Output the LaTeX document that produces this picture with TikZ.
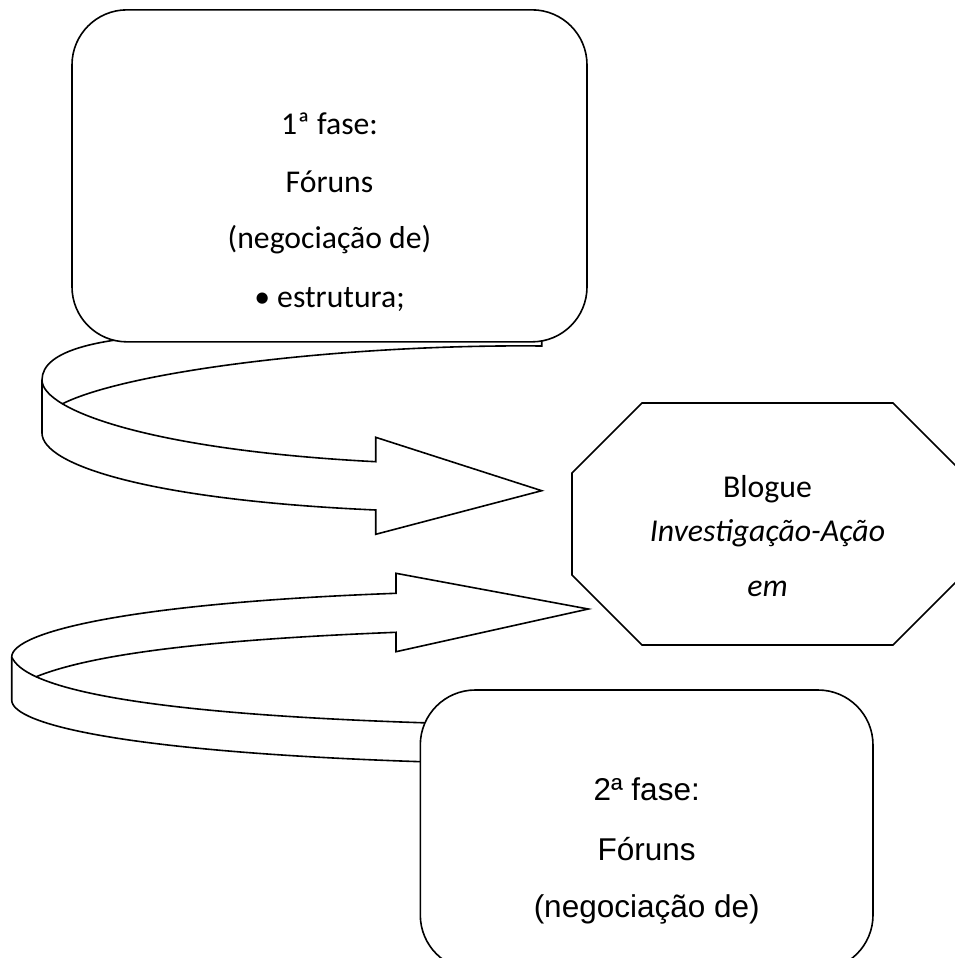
\documentclass[tikz,border=0pt]{standalone}
\usepackage{fontspec}
\newfontfamily\calibrif{Carlito}
\newfontfamily\arialf{Liberation Sans}
\begin{document}
\begin{tikzpicture}[x=1pt,y=-1pt,
  shapeline/.style={draw=black, line width=1.6pt, line join=miter},
  fillshape/.style={shapeline, fill=white},
  roundbox/.style={draw=black, fill=white, line width=1.6pt, rounded corners=55pt, inner sep=0pt},
  caltext/.style={anchor=base, inner sep=0pt, font=\calibrif\fontsize{31.7}{38}\selectfont},
  octtext/.style={anchor=base, inner sep=0pt, font=\calibrif\fontsize{31.8}{38}\selectfont},
  ariatext/.style={anchor=base, inner sep=0pt, font=\arialf\fontsize{31.5}{38}\selectfont}]
\useasboundingbox (0,0) rectangle (955,958);

% ---------- top curved arrow ----------
\coordinate (a1L) at (42,380);
\coordinate (a1Lb) at (42,433);
\coordinate (a1N1) at (375.7,461.7);
\coordinate (a1B1) at (375.7,437.3);
\coordinate (a1T) at (541.7,490.7);
\coordinate (a1B2) at (375.7,534.3);
\coordinate (a1N2) at (375.7,510);
\coordinate (a1tailT) at (541.7,339);
\coordinate (a1tailB) at (541.7,346);
\coordinate (a1meet) at (62.4,403.8);
% back band lines
\draw[shapeline] (a1L) .. controls (42,350) and (100,336) .. (200,334) -- (a1tailT) -- (a1tailB)
   .. controls (350,344) and (130,370) .. (a1meet);
% front band with head
\path[fillshape] (a1L) .. controls (42,410) and (150,450) .. (a1N1) -- (a1B1) -- (a1T) -- (a1B2) -- (a1N2)
   .. controls (150,500) and (42,465) .. (a1Lb) -- cycle;

% ---------- top box ----------
\node[roundbox, minimum width=515pt, minimum height=332pt] (box1) at (329.5,175.85) {};
\node[caltext] (t1a) at (329.5,134.5) {1ª fase:};
\node[caltext] (t1b) at (329.5,192.3) {Fóruns};
\node[caltext] (t1c) at (329.5,248) {(negociação de)};
\node[caltext] (t1d) at (329.5,307.5) {• estrutura;};

% ---------- bottom curved arrow ----------
\coordinate (a2L) at (11.7,657);
\coordinate (a2Lb) at (11.7,700);
\coordinate (a2N1) at (396,593.3);
\coordinate (a2B1) at (396,573.3);
\coordinate (a2T) at (588.3,609);
\coordinate (a2B2) at (396,651.7);
\coordinate (a2N2) at (396,632.3);
\coordinate (a2S) at (36.12,676.73);
% back band
\draw[shapeline] (a2S) .. controls (77.875,695.794) and (180.25,714.675) .. (421,722.7) -- (470,724);
\draw[shapeline] (a2L) -- (a2Lb) .. controls (11.7,725) and (130,752) .. (421,761.7) -- (470,763);
% front band with head
\path[fillshape] (a2L) .. controls (11.7,632) and (130,603) .. (a2N1) -- (a2B1) -- (a2T) -- (a2B2) -- (a2N2)
   .. controls (200,640) and (90,655) .. (a2S) .. controls (22.206,670.375) and (15.025,664) .. (a2L) -- cycle;

% ---------- bottom box ----------
\node[roundbox, minimum width=452.7pt, minimum height=280pt] (box2) at (646.65,830) {};
\node[ariatext] (t2a) at (646.7,800) {2ª fase:};
\node[ariatext] (t2b) at (646.7,860) {Fóruns};
\node[ariatext] (t2c) at (646.7,917) {(negociação de)};

% ---------- octagon ----------
\coordinate (oc) at (767.5,524);
\path[fillshape] (642,403) -- (893,403) -- (963,473) -- (963,575) -- (893,645) -- (642,645) -- (572,575) -- (572,473) -- cycle;
\node[octtext] (o1) at (767.5,497) {Blogue};
\node[octtext] (o2) at (767.5,541) {\itshape Investigação-Ação};
\node[octtext] (o3) at (767.5,596) {\itshape em};
\end{tikzpicture}
\end{document}
